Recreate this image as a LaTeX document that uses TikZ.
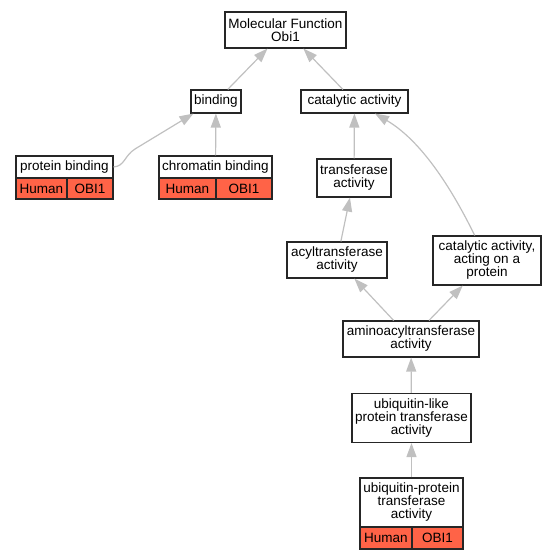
\documentclass[tikz,border=0pt]{standalone}
\usepackage{fontspec}
\setmainfont{Liberation Sans}
\usetikzlibrary{arrows.meta,calc}
\definecolor{tomatored}{RGB}{255,99,71}
\definecolor{edgegray}{RGB}{192,192,192}
\tikzset{
  box/.style={draw=black!85, line width=1.1pt, fill=white, inner sep=0pt, align=center, font=\fontsize{13.5}{13}\selectfont},
  cell/.style={box, fill=tomatored},
  edge/.style={draw=edgegray, line width=1.2pt, -{Triangle[length=14pt,width=10pt]}},
}
\begin{document}
\begin{tikzpicture}[x=1pt,y=-1pt]
\useasboundingbox (0,0) rectangle (556,560);
% plain term boxes
\node[box, minimum width=121pt, minimum height=36pt] (mf) at (285.5,30) {Molecular Function\\Obi1};
\node[box, minimum width=50pt, minimum height=23pt] (bind) at (216,101.5) {binding};
\node[box, minimum width=107pt, minimum height=23pt] (cat) at (354.5,101.5) {catalytic activity};
\node[box, minimum width=74pt, minimum height=38pt] (tr) at (354,178) {transferase\\activity};
\node[box, minimum width=100pt, minimum height=36pt] (acyl) at (337,260) {acyltransferase\\activity};
\node[box, minimum width=108pt, minimum height=49pt] (cap) at (487,260.5) {catalytic activity,\\acting on a\\protein};
\node[box, minimum width=136pt, minimum height=36pt] (amino) at (411,339) {aminoacyltransferase\\activity};
\node[box, minimum width=119pt, minimum height=49pt] (ubl) at (411.5,418) {ubiquitin-like\\protein transferase\\activity};
% record boxes
\node[box, minimum width=97pt, minimum height=22pt] (pbt) at (64.5,167) {protein binding};
\node[cell, minimum width=51pt, minimum height=21pt] (pbh) at (41.5,188.5) {Human};
\node[cell, minimum width=46pt, minimum height=21pt] (pbo) at (90,188.5) {OBI1};
\node[box, minimum width=113pt, minimum height=22pt] (cbt) at (215.5,167) {chromatin binding};
\node[cell, minimum width=57pt, minimum height=21pt] (cbh) at (187.5,188.5) {Human};
\node[cell, minimum width=56pt, minimum height=21pt] (cbo) at (244,188.5) {OBI1};
\node[box, minimum width=103pt, minimum height=49pt] (ubpt) at (411.5,502.5) {ubiquitin-protein\\transferase\\activity};
\node[cell, minimum width=52pt, minimum height=22pt] (ubph) at (386,538) {Human};
\node[cell, minimum width=51pt, minimum height=22pt] (ubpo) at (437.5,538) {OBI1};
% connectors
\draw[edge] (bind) -- (mf);
\draw[edge] (cat) -- (mf);
\draw[edge] (cbt) -- (bind);
\draw[edge] (pbt.east) .. controls (125,166) and (124,156) .. (135,149) -- ($(bind.south west)+(3,0)$);
\draw[edge] (tr) -- (cat);
\draw[edge] (cap) .. controls (450,185) and (420,140) .. (cat);
\draw[edge] (acyl) -- (tr);
\draw[edge] (amino) -- (acyl);
\draw[edge] (amino) -- (cap);
\draw[edge] (ubl) -- (amino);
\draw[edge] (ubpt) -- (ubl);
\end{tikzpicture}
\end{document}
